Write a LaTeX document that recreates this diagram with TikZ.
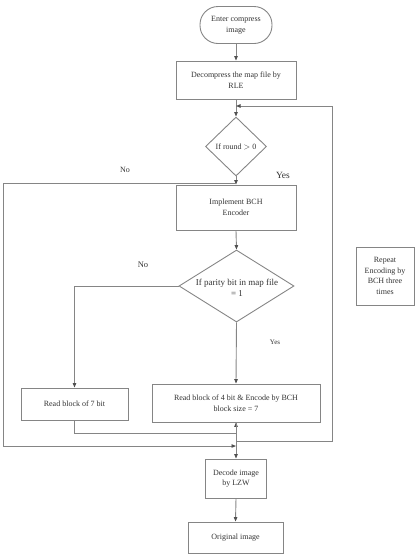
\documentclass[tikz,border=0pt]{standalone}
\usepackage{fontspec}
\setmainfont{Liberation Serif}
\usetikzlibrary{arrows.meta,shapes.geometric}
\definecolor{linegray}{HTML}{858585}
\definecolor{textgray}{HTML}{333333}
\definecolor{tipgray}{HTML}{505050}
\begin{document}
\begin{tikzpicture}[x=1pt,y=-1pt,
  box/.style={draw=linegray, line width=0.9pt, rectangle, inner sep=0pt, align=center,
    text=textgray, font=\fontsize{8}{10.5}\selectfont},
  term/.style={box, rounded corners=18pt},
  dia/.style={draw=linegray, line width=0.9pt, diamond, inner sep=0pt},
  dtext/.style={text=textgray, align=center, inner sep=0pt},
  lbl/.style={text=textgray, inner sep=0pt},
  conn/.style={draw=linegray, line width=0.9pt},
  arr/.style={conn, -{Triangle[length=4.5pt,width=3.5pt,color=tipgray]}}]
\useasboundingbox (0,0) rectangle (417,555);

\node[term, minimum width=72pt, minimum height=37pt] (start) at (236,25) {Enter compress\\image};
\node[box, minimum width=120pt, minimum height=38pt] (dec) at (236,80) {Decompress the map file by\\RLE};
\node[dia, minimum width=61pt, minimum height=59pt] (d1) at (236,146.5) {};
\node[dtext, font=\fontsize{8}{10}\selectfont] (d1t) at (236,146.5) {If round $>$ 0};
\node[box, minimum width=120pt, minimum height=45pt] (bch) at (236,207.5) {Implement BCH\\Encoder};
\node[dia, minimum width=115pt, minimum height=72pt] (d2) at (236.5,286) {};
\node[dtext, font=\fontsize{9}{11}\selectfont] (d2t) at (237,288) {If parity bit in map file\\= 1};
\node[box, minimum width=107pt, minimum height=32pt] (r7) at (74.5,404) {Read block of 7 bit};
\node[box, minimum width=168pt, minimum height=38pt] (r4) at (236,403) {Read block of 4 bit \& Encode by BCH\\block size = 7};
\node[box, minimum width=61pt, minimum height=39pt] (lzw) at (236,478.5) {Decode image\\by LZW};
\node[box, minimum width=95pt, minimum height=31pt] (orig) at (235.5,537.5) {Original image};
\node[box, minimum width=58pt, minimum height=58pt] (rep) at (385,276) {Repeat\\Encoding by\\BCH three\\times};

\node[lbl, font=\fontsize{8}{10}\selectfont] (no1) at (125,170) {No};
\node[lbl, font=\fontsize{9.5}{11}\selectfont] (yes1) at (283,175) {Yes};
\node[lbl, font=\fontsize{8.5}{10}\selectfont] (no2) at (143,265) {No};
\node[lbl, font=\fontsize{7}{9}\selectfont] (yes2) at (275,342) {Yes};

\coordinate (loopin) at (236,106);
\coordinate (nojoin) at (236,183);
\coordinate (r7join) at (236,433);
\coordinate (loopout) at (236,441);
\coordinate (nojoin2) at (236,446);

\draw[arr] (start.south) -- (dec.north);
\draw[arr] (dec.south) -- (d1.north);
\draw[arr] (loopout) -- (332,441) -- (332,106) -- (loopin);
\draw[arr] (d1.south) -- (bch.north);
\draw[arr] (nojoin) -- (3,183) -- (3,446) -- (nojoin2);
\draw[arr] (bch.south) -- (d2.north);
\draw[arr] (d2.west) -| (r7.north);
\draw[arr] (d2.south) -- (r4.north);
\draw[arr] (r7.south) |- (r7join) -- (r4.south);
\draw[arr] (r4.south) -- (lzw.north);
\draw[arr] (lzw.south) -- (orig.north);
\end{tikzpicture}
\end{document}
